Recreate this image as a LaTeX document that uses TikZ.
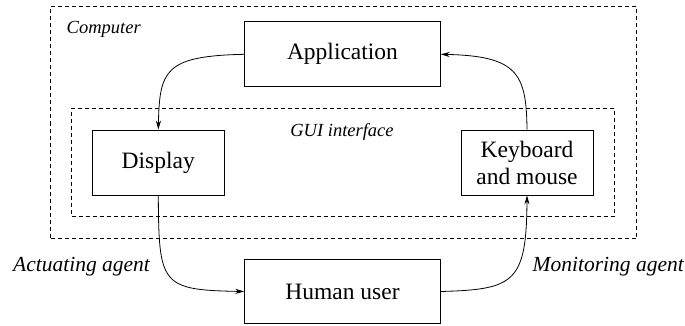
\documentclass[tikz,border=0pt]{standalone}
\usepackage{fontspec}
\setmainfont{Liberation Serif}
\usetikzlibrary{arrows.meta}
\begin{document}
\begin{tikzpicture}[x=1pt,y=1pt,
  box/.style={draw, line width=0.8pt, minimum width=195.6pt, minimum height=65pt, inner sep=0pt, font=\fontsize{23.5}{27}\selectfont, align=center},
  smallbox/.style={box, minimum width=132pt},
  frame/.style={draw, line width=0.8pt, dash pattern=on 4pt off 3pt, inner sep=0pt},
  lab/.style={font=\fontsize{18.5}{22}\selectfont\itshape, inner sep=0pt},
  biglab/.style={font=\fontsize{21.5}{25}\selectfont\itshape, inner sep=0pt},
  conn/.style={line width=0.8pt, -{Stealth[length=9pt,width=5pt]}}]
\useasboundingbox (0,0) rectangle (685,325);
\node[frame, minimum width=586pt, minimum height=232pt] (computer) at (343.5,202.5) {};
\node[frame, minimum width=543pt, minimum height=107.7pt] (gui) at (343,162.85) {};
\node[lab, anchor=base west] (computerlab) at (66.5,291.7) {Computer};
\node[lab, anchor=base] (guilab) at (342,189) {GUI interface};
\node[box] (app) at (342.5,270.7) {Application};
\node[smallbox] (display) at (158.3,162.5) {Display};
\node[smallbox] (kbd) at (527,162.5) {Keyboard\\and mouse};
\node[box, minimum height=64pt] (user) at (342.5,33.5) {Human user};
\node[biglab, anchor=base west] (actlab) at (13,54) {Actuating agent};
\node[biglab, anchor=base east] (monlab) at (684,54) {Monitoring agent};
\draw[conn] (app.west) .. controls (165,269) and (159.5,255) .. (display.north);
\draw[conn] (kbd.north) .. controls (526.5,252) and (517,269) .. (app.east);
\draw[conn] (display.south) .. controls (158.8,40) and (161,35) .. (user.west);
\draw[conn] (user.east) .. controls (514,35.5) and (526.5,42) .. (kbd.south);
\end{tikzpicture}
\end{document}
